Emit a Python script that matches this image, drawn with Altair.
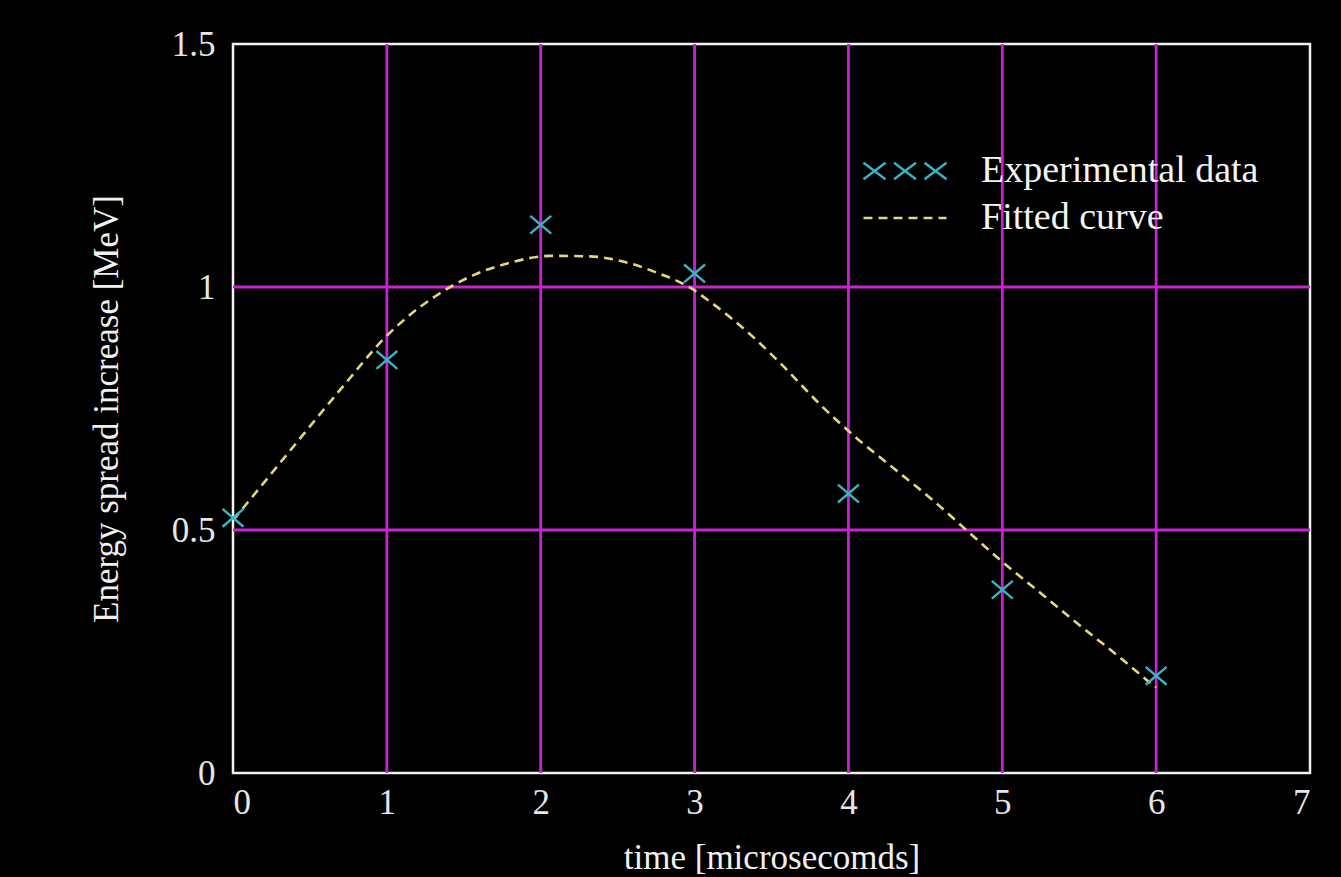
import altair as alt
import pandas as pd

# Measured energy-spread increase at each sampling time
time_us = [0, 1, 2, 3, 4, 5, 6]
spread_mev = [0.525, 0.85, 1.128, 1.028, 0.575, 0.377, 0.20]

# Fitted curve sampled along the time axis
fit_time = [0.0, 0.13, 0.28, 0.44, 0.59, 0.74, 0.97, 1.14, 1.32, 1.56, 1.80,
            2.06, 2.32, 2.54, 2.75, 2.99, 3.10, 3.36, 3.58, 3.82, 4.05, 4.29,
            4.55, 4.77, 5.01, 5.25, 5.51, 5.74, 5.96, 6.0]
fit_mev = [0.52, 0.570, 0.628, 0.690, 0.748, 0.805, 0.890, 0.940, 0.982, 1.024,
           1.050, 1.064, 1.063, 1.052, 1.030, 0.995, 0.970, 0.903, 0.836, 0.757,
           0.690, 0.628, 0.561, 0.499, 0.432, 0.370, 0.302, 0.244, 0.186, 0.176]

x_ticks = [0, 1, 2, 3, 4, 5, 6, 7]
y_ticks = [0, 0.5, 1, 1.5]
x_grid = [1, 2, 3, 4, 5, 6]
y_grid = [0.5, 1]

FONT = "Liberation Serif"
GRID = "#c822d2"
CYAN = "#3ab4c4"
YELLOW = "#e4d878"
X_MARK = "M-1,-0.85L1,0.85M-1,0.85L1,-0.85"
XXX_MARK = ("M-1,-0.2L-0.47,0.2M-1,0.2L-0.47,-0.2"
            "M-0.265,-0.2L0.265,0.2M-0.265,0.2L0.265,-0.2"
            "M0.47,-0.2L1,0.2M0.47,0.2L1,-0.2")

points = pd.DataFrame({"t": time_us, "e": spread_mev,
                       "series": ["Experimental data"] * len(time_us)})
curve = pd.DataFrame({"t": fit_time, "e": fit_mev,
                      "curve": ["Fitted curve"] * len(fit_time)})

x_scale = alt.Scale(domain=[0, 7], nice=False, zero=False)
y_scale = alt.Scale(domain=[0, 1.5], nice=False)

x_axis = alt.Axis(values=x_ticks, format="d", grid=False, ticks=False, domain=False,
                  title="time [microsecomds]", labelPadding=12, titlePadding=20)
y_axis = alt.Axis(values=y_ticks, labelExpr="toString(datum.value)", grid=False,
                  ticks=False, domain=False, title="Energy spread increase [MeV]",
                  labelPadding=18, titlePadding=47)

vgrid = alt.Chart(pd.DataFrame({"t": x_grid})).mark_rule(
    color=GRID, strokeWidth=2.8
).encode(x=alt.X("t:Q", scale=x_scale, axis=x_axis))

hgrid = alt.Chart(pd.DataFrame({"e": y_grid})).mark_rule(
    color=GRID, strokeWidth=2.8
).encode(y=alt.Y("e:Q", scale=y_scale, axis=y_axis))

fit_line = alt.Chart(curve).mark_line(
    color=YELLOW, strokeWidth=2.6, interpolate="monotone"
).encode(
    x=alt.X("t:Q", scale=x_scale),
    y=alt.Y("e:Q", scale=y_scale),
    strokeDash=alt.StrokeDash(
        "curve:N",
        scale=alt.Scale(domain=["Fitted curve"], range=[[9, 6]]),
        legend=alt.Legend(
            title=None, orient="none", legendX=629, legendY=131,
            symbolType="stroke", symbolSize=6889, symbolStrokeColor=YELLOW,
            symbolStrokeWidth=2.6, labelOffset=33, padding=0,
        ),
    ),
)

data_pts = alt.Chart(points).mark_point(
    shape=X_MARK, filled=False, size=440, strokeWidth=2.4, opacity=1
).encode(
    x=alt.X("t:Q", scale=x_scale),
    y=alt.Y("e:Q", scale=y_scale),
    color=alt.Color(
        "series:N",
        scale=alt.Scale(domain=["Experimental data"], range=[CYAN]),
        legend=alt.Legend(
            title=None, orient="none", legendX=629, legendY=84,
            symbolType=XXX_MARK, symbolSize=6889, symbolStrokeColor=CYAN,
            symbolFillColor="transparent", symbolStrokeWidth=2.4,
            labelOffset=33, padding=0,
        ),
    ),
)

chart = alt.layer(vgrid, hgrid, fit_line, data_pts).properties(
    width=1077,
    height=729,
    autosize=alt.AutoSizeParams(type="none"),
    padding={"left": 233, "top": 44, "right": 31, "bottom": 104},
    background="black",
).configure_view(
    stroke="#f2f2f2", strokeWidth=2.5
).configure_axis(
    labelFont=FONT, labelFontSize=35, labelColor="#e6e6e6",
    titleFont=FONT, titleFontSize=35, titleColor="#f0f0f0", titleFontWeight="normal",
).configure_legend(
    labelFont=FONT, labelFontSize=38, labelColor="#f4f4f4", labelLimit=0,
)

chart.save("out.html", embed_options={"renderer": "svg", "actions": False})
